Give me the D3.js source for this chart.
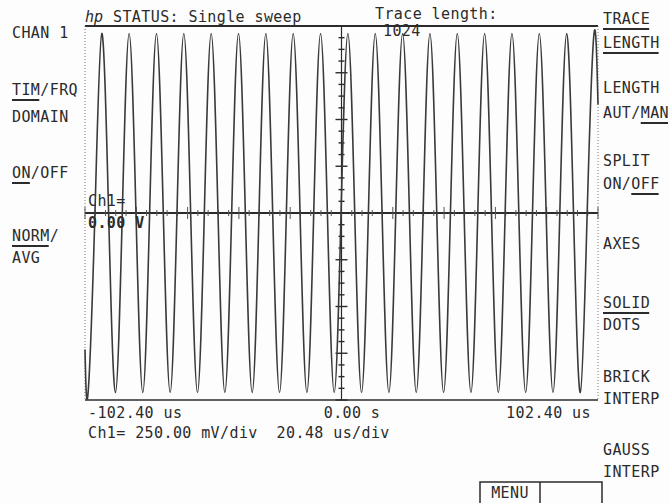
<!DOCTYPE html>
<html><head><meta charset="utf-8">
<script src="https://cdn.jsdelivr.net/npm/d3@7"></script>
<style>
html,body{margin:0;padding:0;background:#fdfdfd;}
svg{display:block;}
text{font-family:"DejaVu Sans Mono",monospace;font-size:15px;fill:#2b2b2b;letter-spacing:0.4px;white-space:pre;}
</style></head>
<body>
<svg id="chart" width="670" height="503"></svg>
<script>
// Trace vertices: time (us) and voltage (V) at troughs, zero crossings, peaks
const traceTime = [-102.40,
 -101.16,-98.43,-95.70,-92.97,-90.24,-87.51,-84.78,-82.05,-79.33,-76.60,
 -73.87,-71.14,-68.41,-65.68,-62.95,-60.22,-57.49,-54.76,-52.03,-49.30,
 -46.57,-43.84,-41.12,-38.39,-35.66,-32.93,-30.20,-27.47,-24.74,-22.01,
 -19.28,-16.55,-13.82,-11.09,-8.36,-5.63,-2.91,-0.18,2.55,5.28,
 8.01,10.74,13.47,16.20,18.93,21.66,24.39,27.12,29.85,32.58,
 35.31,38.03,40.76,43.49,46.22,48.95,51.68,54.41,57.14,59.87,
 62.60,65.33,68.06,70.79,73.52,76.25,78.97,81.70,84.43,87.16,
 89.89,92.62,95.35,98.08,100.81,
 102.40];
const traceVolt = [-0.73,
 -0.96,0,0.96,0,-0.96,0,0.96,0,-0.96,0,
 0.96,0,-0.96,0,0.96,0,-0.96,0,0.96,0,
 -0.96,0,0.96,0,-0.96,0,0.96,0,-0.96,0,
 0.96,0,-0.96,0,0.96,0,-0.96,0,0.96,0,
 -0.96,0,0.96,0,-0.96,0,0.96,0,-0.96,0,
 0.96,0,-0.96,0,0.96,0,-0.96,0,0.96,0,
 -0.96,0,0.96,0,-0.96,0,0.96,0,-0.96,0,
 0.96,0,-0.96,0,0.96,
 0.58];

const timeRange = [-102.40, 102.40];   // us
const voltRange = [-1.0, 1.0];         // V
const timePerDiv = 20.48;              // us/div
const voltPerDiv = 0.25;               // V/div

const leftSoftkeys  = [["CHAN 1",""],["TIM/FRQ","TIM"],["DOMAIN",""],["ON/OFF","ON"],["NORM/","NORM"],["AVG",""]];
const rightSoftkeys = [["TRACE","TRACE"],["LENGTH","LENGTH"],["LENGTH",""],["AUT/MAN","MAN"],["SPLIT",""],["ON/OFF","OFF"],["AXES",""],["SOLID","SOLID"],["DOTS",""],["BRICK",""],["INTERP",""],["GAUSS",""],["INTERP",""]];
const statusText = "STATUS: Single sweep";
const traceLenLabel = "Trace length:";
const traceLenValue = "1024";
const xTickLabels = ["-102.40 us","0.00 s","102.40 us"];
const scaleLine = "Ch1= 250.00 mV/div  20.48 us/div";
const refLabel = ["Ch1=","0.00 V"];

const svg = d3.select("#chart");
const L = 85, R = 598, T = 26, B = 400;
const x = d3.scaleLinear().domain(timeRange).range([L, R]);
const y = d3.scaleLinear().domain(voltRange).range([B, T]);
const ink = "#2b2b2b";

// frame
svg.append("line").attr("x1",L).attr("x2",R).attr("y1",T).attr("y2",T).attr("stroke",ink).attr("stroke-width",2);
svg.append("line").attr("x1",L).attr("x2",R).attr("y1",B).attr("y2",B).attr("stroke",ink).attr("stroke-width",1.6);
[L,R].forEach(xx=>svg.append("line").attr("x1",xx).attr("x2",xx).attr("y1",T).attr("y2",B)
  .attr("stroke","#777").attr("stroke-width",1).attr("stroke-dasharray","1,2"));

// centre axes
const y0 = y(0), x0 = x(0);
svg.append("line").attr("x1",L).attr("x2",R).attr("y1",y0).attr("y2",y0).attr("stroke",ink).attr("stroke-width",1.8);
svg.append("line").attr("x1",x0).attr("x2",x0).attr("y1",T).attr("y2",B).attr("stroke",ink).attr("stroke-width",1.2);

// x ticks along zero line (5 minor per division)
const xMinor = d3.range(timeRange[0], timeRange[1]+0.001, timePerDiv/5);
svg.append("g").selectAll("line").data(xMinor).join("line")
  .attr("x1",d=>x(d)).attr("x2",d=>x(d))
  .attr("y1",(d,i)=> i%5===0 ? y0-6 : y0-3)
  .attr("y2",(d,i)=> i%5===0 ? y0+6 : y0+3)
  .attr("stroke","#555").attr("stroke-width",1);

// y ticks along centre line (4 minor per division)
const yMinor = d3.range(voltRange[0], voltRange[1]+0.0001, voltPerDiv/4);
svg.append("g").selectAll("line").data(yMinor).join("line")
  .attr("y1",d=>y(d)).attr("y2",d=>y(d))
  .attr("x1",(d,i)=> i%4===0 ? x0-6 : x0-3)
  .attr("x2",(d,i)=> i%4===0 ? x0+6 : x0+3)
  .attr("stroke",ink).attr("stroke-width",1.4);

// trace
const pts = traceTime.map((t,i)=>[t, traceVolt[i]]);
svg.append("path").datum(pts)
  .attr("d", d3.line().x(d=>x(d[0])).y(d=>y(d[1])).curve(d3.curveNatural))
  .attr("fill","none").attr("stroke","#3a3a3a").attr("stroke-width",1.6);

// helper for text with optional underline of a substring
function label(txt, under, px, py, anchor){
  const t = svg.append("text").attr("x",px).attr("y",py).text(txt);
  if(anchor) t.attr("text-anchor",anchor);
  if(under){
    const idx = txt.indexOf(under);
    const n = t.node();
    const bb = n.getBBox();
    const startX = bb.x + (idx>0 ? n.getSubStringLength(0, idx) : 0);
    const w = n.getSubStringLength(idx, under.length);
    svg.append("line").attr("x1",startX).attr("x2",startX+w-1)
      .attr("y1",py+5).attr("y2",py+5).attr("stroke",ink).attr("stroke-width",2);
  }
  return t;
}

// left softkeys
const leftY = [38, 95, 122, 178, 241, 263];
leftSoftkeys.forEach((d,i)=>label(d[0], d[1], 12, leftY[i]));

// right softkeys
const rightY = [24, 48, 93, 118, 166, 189, 249, 308, 330, 382, 404, 455, 477];
rightSoftkeys.forEach((d,i)=>label(d[0], d[1], 603, rightY[i]));

// header
svg.append("text").attr("x",85).attr("y",22).attr("style","font-style:italic;letter-spacing:0").text("hp");
label(statusText, "", 113, 22);
label(traceLenLabel, "", 375, 19);
label(traceLenValue, "", 383, 36);

// bottom labels
label(xTickLabels[0], "", 88, 418);
label(xTickLabels[1], "", 352, 418, "middle");
label(xTickLabels[2], "", 591, 418, "end");
label(scaleLine, "", 88, 438);

// reference level label
label(refLabel[0], "", 88, 206);
label(refLabel[1], "", 88, 228).attr("style","font-weight:bold");

// menu box
svg.append("rect").attr("x",480).attr("y",482).attr("width",122).attr("height",24)
  .attr("fill","none").attr("stroke",ink).attr("stroke-width",1.5);
svg.append("line").attr("x1",540).attr("x2",540).attr("y1",482).attr("y2",503).attr("stroke",ink).attr("stroke-width",1.5);
label("MENU", "", 510, 498, "middle");
</script>
</body></html>
